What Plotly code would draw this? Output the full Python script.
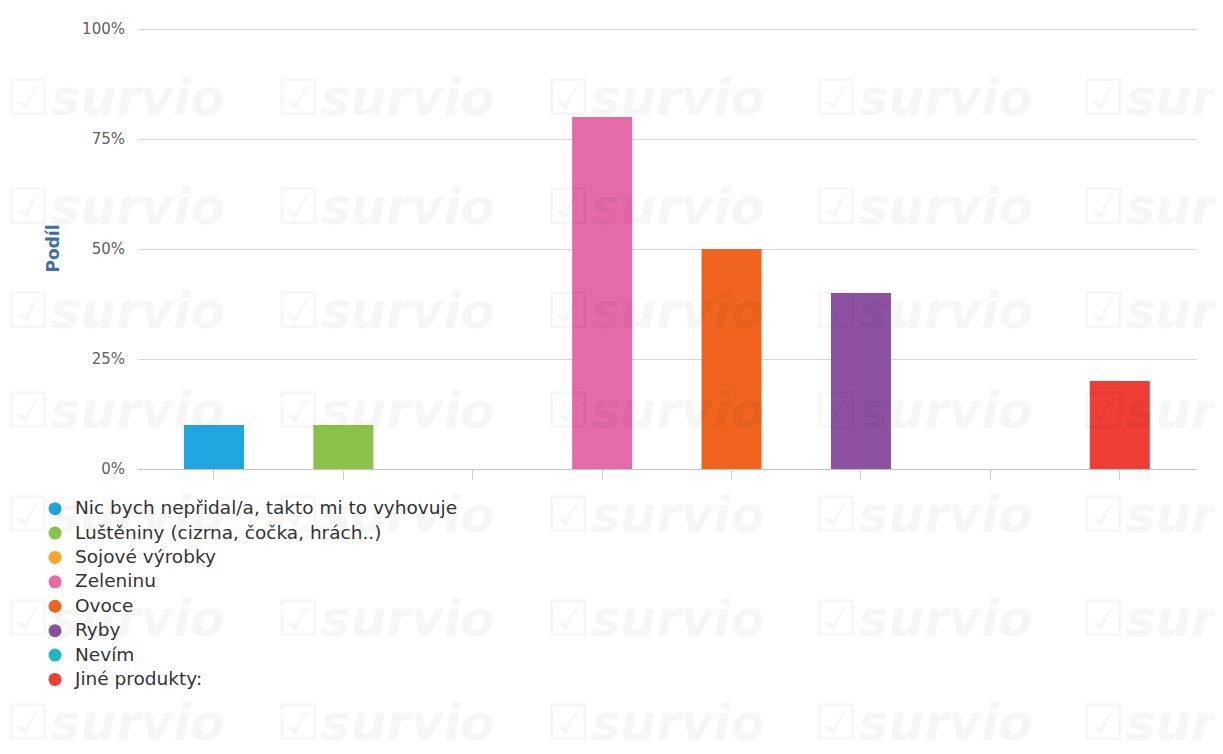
import plotly.graph_objects as go

categories = [
    "Nic bych nepřidal/a, takto mi to vyhovuje",
    "Luštěniny (cizrna, čočka, hrách..)",
    "Sojové výrobky",
    "Zeleninu",
    "Ovoce",
    "Ryby",
    "Nevím",
    "Jiné produkty:",
]
values = [10, 10, 0, 80, 50, 40, 0, 20]
colors = ["#1fa6e0", "#8bc34a", "#f9a52b", "#e46aa8", "#f0641f", "#8c52a1", "#22b6c0", "#ee3e35"]
y_ticks = [0, 25, 50, 75, 100]
y_tick_labels = ["0%", "25%", "50%", "75%", "100%"]

L, T, PW, PH = 130, 16, 1059, 445
fig = go.Figure()

# faint watermark
wm_rows = [95, 205, 310, 410, 515, 620, 725]
wm_cols = [115, 385, 655, 923, 1190]
for ry in wm_rows:
    for cx in wm_cols:
        fig.add_annotation(
            text="<b><i>☑survio</i></b>", xref="paper", yref="paper",
            x=(cx - 8 - L) / PW, y=(T + PH - (ry - 8)) / PH, showarrow=False,
            font=dict(family="DejaVu Sans", size=50, color="rgba(0,0,0,0.035)"),
            xanchor="center", yanchor="middle",
        )

for i, (cat, val, col) in enumerate(zip(categories, values, colors)):
    fig.add_trace(go.Bar(
        x=[i], y=[val], name=cat, marker=dict(color=col, line=dict(width=0)),
        width=0.464, showlegend=False, legendgroup=f"g{i}",
        hovertemplate=f"{cat}: %{{y}}%<extra></extra>",
    ))
    fig.add_trace(go.Scatter(
        x=[None], y=[None], mode="markers",
        name=f"<span style='font-size:18.5px'>{cat}</span>", legendgroup=f"g{i}",
        marker=dict(color=col, size=13, symbol="circle"), showlegend=True,
    ))

fig.update_layout(
    width=1223, height=754,
    margin=dict(l=L, r=1223 - L - PW, t=T, b=754 - T - PH),
    paper_bgcolor="white", plot_bgcolor="rgba(0,0,0,0)",
    font=dict(family="DejaVu Sans", color="#333333"),
    barmode="overlay",
    legend=dict(
        orientation="v", x=(27 - L) / PW, xanchor="left", y=-0.0545, yanchor="top",
        font=dict(family="DejaVu Sans", size=14, color="#333333"),
        tracegroupgap=3.2, itemwidth=30, bgcolor="rgba(0,0,0,0)",
    ),
    xaxis=dict(
        range=[-0.587, 7.597], tickmode="array", tickvals=list(range(8)),
        showticklabels=False, ticks="outside", ticklen=10, tickcolor="#d0d0d0",
        showline=True, linecolor="#c4c4c4", linewidth=1, showgrid=False,
        zeroline=False, fixedrange=True,
    ),
    yaxis=dict(
        range=[0, 100.25], tickmode="array", tickvals=y_ticks, ticktext=y_tick_labels,
        showgrid=True, gridcolor="#d6d6d6", gridwidth=1, zeroline=False,
        tickfont=dict(family="DejaVu Sans", size=15, color="#606060"),
        ticks="", ticklabelstandoff=12,
        title=dict(text="<b>Podíl</b>", font=dict(family="DejaVu Sans", size=17, color="#3f6fa3"), standoff=18),
    ),
)

fig.write_html("out.html")
